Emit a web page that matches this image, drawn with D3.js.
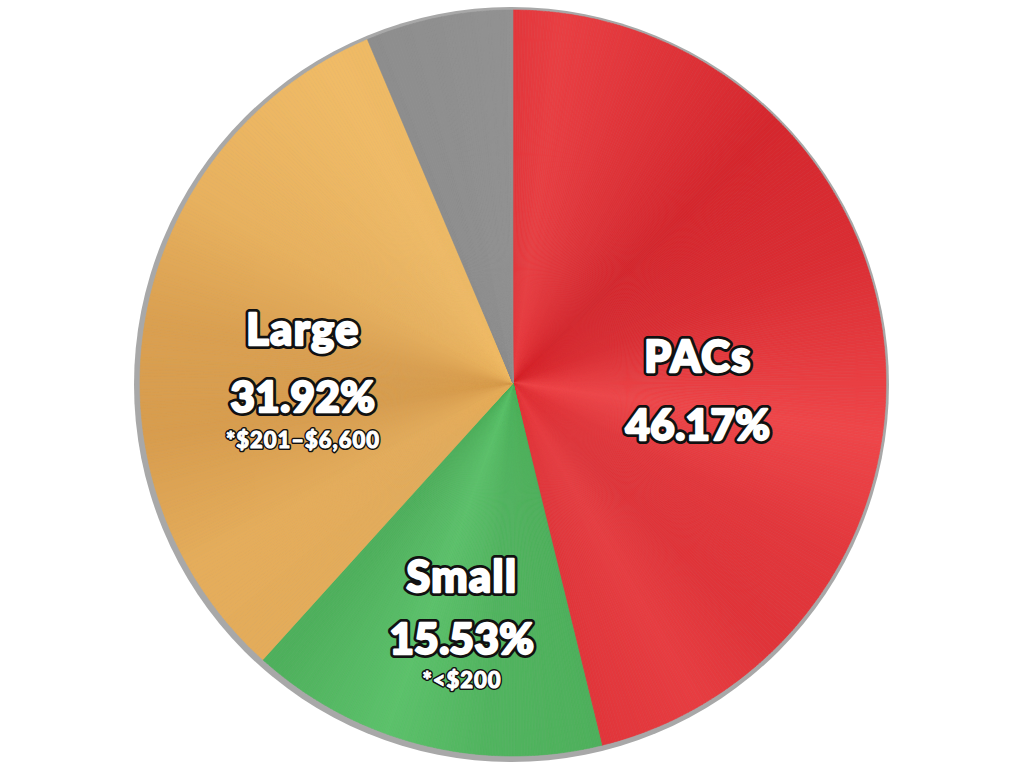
<!DOCTYPE html>
<html>
<head>
<meta charset="utf-8">
<script src="https://cdn.jsdelivr.net/npm/d3@7"></script>
<style>
  body { margin: 0; background: #fff; }
  svg { display: block; }
  .lbl { font-family: Lato, "Open Sans", sans-serif; font-weight: 900; stroke-linejoin: round; }
  .lbl.back { fill: #111; stroke: #111; }
  .lbl.front { fill: #fff; stroke: #fff; }
</style>
</head>
<body>
<div id="chart"></div>
<script>
// data
const categories = ["PACs", "Small", "Large", "Other"];
const shares = [46.17, 15.53, 31.92, 6.38];
const notes = ["", "*<$200", "*$201\u2013$6,600", ""];

const width = 1024, height = 768;
const cx = 513, cy = 383, radius = 373;

const svg = d3.select("#chart").append("svg")
    .attr("width", width)
    .attr("height", height);

// gray rim behind the pie
svg.append("circle")
    .attr("cx", cx - 1.5)
    .attr("cy", cy + 1.5)
    .attr("r", radius + 4.5)
    .attr("fill", "#a8a8a8");

const g = svg.append("g").attr("transform", `translate(${cx},${cy})`);

const pie = d3.pie().sort(null).value(d => d.value);
const arcs = pie(categories.map((c, i) => ({name: c, value: shares[i], note: notes[i]})));

// dark / light colour for each slice, and a shine profile (degrees -> 0..1)
const palette = {
    PACs:  {dark: "#d2232a", light: "#f0484b",
            shine: d3.scaleLinear().domain([0, 8, 45, 70, 98, 118, 135, 150, 167]).range([0.55, 0.75, 0.1, 0.3, 0.95, 0.55, 0.45, 0.7, 0.5])},
    Small: {dark: "#46a653", light: "#5dc36c",
            shine: d3.scaleLinear().domain([166, 185, 200, 220, 242]).range([0.35, 0.5, 0.95, 0.35, 0.45])},
    Large: {dark: "#d5994b", light: "#f0bb66",
            shine: d3.scaleLinear().domain([222, 240, 262, 280, 300, 330, 358]).range([0.55, 0.6, 0.1, 0.2, 0.7, 1, 0.85])},
    Other: {dark: "#8a8a8a", light: "#959595",
            shine: d3.scaleLinear().domain([338, 360]).range([0.3, 0.7])}
};

const arc = d3.arc().innerRadius(0).outerRadius(radius);
const step = Math.PI / 360;

arcs.forEach(a => {
    const p = palette[a.data.name];
    const col = d3.interpolateRgb(p.dark, p.light);
    const pieces = d3.range(a.startAngle, a.endAngle, step).map(s => ({
        startAngle: s,
        endAngle: Math.min(s + step, a.endAngle)
    }));
    const fill = d => col(p.shine(((d.startAngle + d.endAngle) / 2) * 180 / Math.PI));
    g.append("g").selectAll("path")
        .data(pieces)
        .join("path")
        .attr("d", arc)
        .attr("fill", fill)
        .attr("stroke", fill)
        .attr("stroke-width", 0.6);
});

// labels: black outline underneath, white (slightly fattened) text on top
const labelPos = {
    PACs:  {x: 698, y: 372, gap: 68, noteGap: 0},
    Small: {x: 462, y: 592, gap: 62, noteGap: 34},
    Large: {x: 303, y: 345, gap: 67, noteGap: 36}
};

function outlined(x, y, size, txt, spacing) {
    const big = size > 30;
    svg.append("text").attr("class", "lbl back")
        .attr("x", x).attr("y", y).attr("text-anchor", "middle")
        .attr("font-size", size).attr("stroke-width", big ? 8 : 4)
        .attr("letter-spacing", spacing)
        .text(txt);
    svg.append("text").attr("class", "lbl front")
        .attr("x", x).attr("y", y).attr("text-anchor", "middle")
        .attr("font-size", size).attr("stroke-width", big ? 2.4 : 1)
        .attr("letter-spacing", spacing)
        .text(txt);
}

arcs.filter(a => labelPos[a.data.name]).forEach(a => {
    const pos = labelPos[a.data.name];
    outlined(pos.x, pos.y, 43, a.data.name, 1.5);
    outlined(pos.x, pos.y + pos.gap, 42, a.data.value.toFixed(2) + "%", 0.5);
    if (a.data.note) outlined(pos.x, pos.y + pos.gap + pos.noteGap, 22, a.data.note, 1);
});
</script>
</body>
</html>
